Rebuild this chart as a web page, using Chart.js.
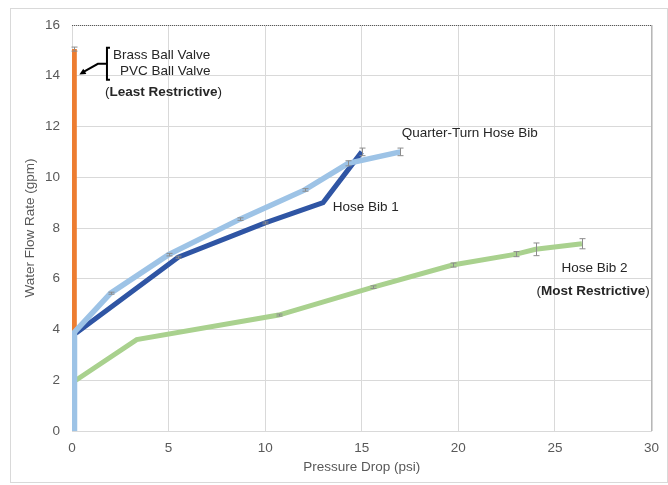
<!DOCTYPE html>
<html>
<head>
<meta charset="utf-8">
<script src="https://cdn.jsdelivr.net/npm/chart.js@4/dist/chart.umd.min.js"></script>
<style>
  html, body { margin: 0; padding: 0; background: #fff; }
  canvas { display: block; }
</style>
</head>
<body>
<canvas id="flow-chart" width="668" height="485"></canvas>
<script>
// values (x = pressure drop psi, y = flow gpm)
const quarterX   = [0.13, 0.13, 2.0, 5.0, 8.7, 12.05, 14.3, 17.0];
const quarterY   = [0, 3.9, 5.43, 6.95, 8.35, 9.5, 10.55, 11.0];
const quarterErr = [0, 0, 0.04, 0.05, 0.05, 0.05, 0.1, 0.15];

const bib1X   = [0.2, 5.5, 10.0, 13.0, 15.0];
const bib1Y   = [3.85, 6.85, 8.2, 9.0, 11.0];
const bib1Err = [0, 0.04, 0.04, 0, 0.15];

const bib2X   = [0.2, 3.35, 10.7, 15.6, 19.7, 23.0, 24.0, 26.4];
const bib2Y   = [2.0, 3.6, 4.57, 5.67, 6.54, 6.97, 7.16, 7.38];
const bib2Err = [0, 0, 0.04, 0.05, 0.08, 0.1, 0.25, 0.2];

const valveX   = [0.12, 0.12];
const valveY   = [0, 15.05];
const valveErr = [0, 0.08];

const xTicks = [0, 5, 10, 15, 20, 25, 30];
const yTicks = [0, 2, 4, 6, 8, 10, 12, 14, 16];

const FONT = '"Liberation Sans", Arial, sans-serif';
const toPoints = (xs, ys) => xs.map((x, i) => ({ x, y: ys[i] }));

// labels placed in data units (left edge, vertical middle)
const labels = [
  { x: 2.12, y: 14.82, parts: [['Brass Ball Valve', false]] },
  { x: 2.48, y: 14.19, parts: [['PVC Ball Valve', false]] },
  { x: 1.71, y: 13.36, parts: [['(', false], ['Least Restrictive', true], [')', false]] },
  { x: 17.07, y: 11.74, parts: [['Quarter-Turn Hose Bib', false]] },
  { x: 13.5, y: 8.83, parts: [['Hose Bib 1', false]] },
  { x: 25.34, y: 6.42, parts: [['Hose Bib 2', false]] },
  { x: 24.05, y: 5.52, parts: [['(', false], ['Most Restrictive', true], [')', false]] },
];

const errorBars = {
  id: 'errorBars',
  afterDatasetsDraw(chart) {
    const { ctx, scales: { x, y } } = chart;
    ctx.save();
    ctx.strokeStyle = '#8c8c8c';
    ctx.lineWidth = 1;
    chart.data.datasets.forEach(ds => {
      ds.data.forEach((p, i) => {
        const e = ds.errors[i];
        if (!e) return;
        const px = Math.round(x.getPixelForValue(p.x)) + 0.5;
        const y1 = y.getPixelForValue(p.y - e);
        const y2 = y.getPixelForValue(p.y + e);
        ctx.beginPath();
        ctx.moveTo(px, y1); ctx.lineTo(px, y2);
        ctx.moveTo(px - 3, y1); ctx.lineTo(px + 3, y1);
        ctx.moveTo(px - 3, y2); ctx.lineTo(px + 3, y2);
        ctx.stroke();
      });
    });
    ctx.restore();
  }
};

const decorations = {
  id: 'decorations',
  beforeDraw(chart) {
    const { ctx } = chart;
    ctx.save();
    ctx.fillStyle = '#fff';
    ctx.fillRect(0, 0, chart.width, chart.height);
    ctx.strokeStyle = '#d9d9d9';
    ctx.lineWidth = 1;
    ctx.strokeRect(10.5, 8.5, 657, 474);
    ctx.restore();
  },
  afterDraw(chart) {
    const { ctx, chartArea: a, scales: { x, y } } = chart;
    ctx.save();
    // dotted plot border top/right
    ctx.strokeStyle = '#595959';
    ctx.setLineDash([1, 1]);
    ctx.beginPath();
    ctx.moveTo(a.left, a.top + 0.5); ctx.lineTo(a.right + 0.5, a.top + 0.5);
    ctx.lineTo(a.right + 0.5, a.bottom);
    ctx.stroke();
    ctx.setLineDash([]);

    // bracket + arrow for the valves
    const X = v => x.getPixelForValue(v), Y = v => y.getPixelForValue(v);
    ctx.strokeStyle = '#000';
    ctx.lineWidth = 2;
    ctx.beginPath();
    ctx.moveTo(X(1.81) + 3, Y(15.1)); ctx.lineTo(X(1.81), Y(15.1));
    ctx.lineTo(X(1.81), Y(13.84)); ctx.lineTo(X(1.81) + 3, Y(13.84));
    ctx.moveTo(X(1.81), Y(14.47)); ctx.lineTo(X(1.34), Y(14.47));
    ctx.lineTo(X(0.55), Y(14.13));
    ctx.stroke();
    const tipX = X(0.38), tipY = Y(14.05);
    const ang = Math.atan2(Y(14.47) - tipY, X(1.34) - tipX);
    ctx.fillStyle = '#000';
    ctx.beginPath();
    ctx.moveTo(tipX, tipY);
    ctx.lineTo(tipX + 7 * Math.cos(ang - 0.45), tipY + 7 * Math.sin(ang - 0.45));
    ctx.lineTo(tipX + 7 * Math.cos(ang + 0.45), tipY + 7 * Math.sin(ang + 0.45));
    ctx.closePath();
    ctx.fill();

    // text labels
    ctx.fillStyle = '#262626';
    ctx.textBaseline = 'middle';
    ctx.textAlign = 'left';
    labels.forEach(l => {
      let px = X(l.x);
      const py = Y(l.y);
      l.parts.forEach(([txt, bold]) => {
        ctx.font = (bold ? 'bold ' : '') + '13.5px ' + FONT;
        ctx.fillText(txt, px, py);
        px += ctx.measureText(txt).width;
      });
    });
    ctx.restore();
  }
};

new Chart(document.getElementById('flow-chart'), {
  type: 'scatter',
  data: {
    datasets: [
      { label: 'Quarter-Turn Hose Bib', data: toPoints(quarterX, quarterY), errors: quarterErr,
        borderColor: '#9dc3e6', borderWidth: 5.5 },
      { label: 'Hose Bib 1', data: toPoints(bib1X, bib1Y), errors: bib1Err,
        borderColor: '#2f55a4', borderWidth: 5 },
      { label: 'Hose Bib 2', data: toPoints(bib2X, bib2Y), errors: bib2Err,
        borderColor: '#a9d18e', borderWidth: 5 },
      { label: 'Brass / PVC Ball Valve', data: toPoints(valveX, valveY), errors: valveErr,
        borderColor: '#ed7d31', borderWidth: 5 },
    ].map(d => Object.assign(d, { showLine: true, pointRadius: 0, tension: 0, borderJoinStyle: 'miter', borderCapStyle: 'butt' }))
  },
  options: {
    responsive: false,
    animation: false,
    devicePixelRatio: 1,
    layout: { padding: { top: 25, right: 16, left: 0, bottom: 0 } },
    plugins: { legend: { display: false }, tooltip: { enabled: false } },
    scales: {
      x: {
        type: 'linear', min: 0, max: 30,
        afterBuildTicks: s => { s.ticks = xTicks.map(v => ({ value: v })); },
        afterFit: s => { s.height = 54; },
        ticks: { color: '#595959', padding: 9, font: { family: FONT, size: 13.5 } },
        grid: { color: '#d9d9d9', drawTicks: false },
        border: { color: '#d9d9d9' },
        title: { display: true, text: 'Pressure Drop (psi)', color: '#595959',
                 font: { family: FONT, size: 13.5 }, padding: { bottom: 10, top: 0 } }
      },
      y: {
        type: 'linear', min: 0, max: 16,
        afterBuildTicks: s => { s.ticks = yTicks.map(v => ({ value: v })); },
        afterFit: s => { s.width = 72; },
        ticks: { color: '#595959', padding: 12, font: { family: FONT, size: 13.5 } },
        grid: { color: '#d9d9d9', drawTicks: false },
        border: { color: '#d9d9d9' },
        title: { display: true, text: 'Water Flow Rate (gpm)', color: '#595959',
                 font: { family: FONT, size: 13.5 }, padding: { top: 22, bottom: 0 } }
      }
    }
  },
  plugins: [decorations, errorBars]
});
</script>
</body>
</html>
